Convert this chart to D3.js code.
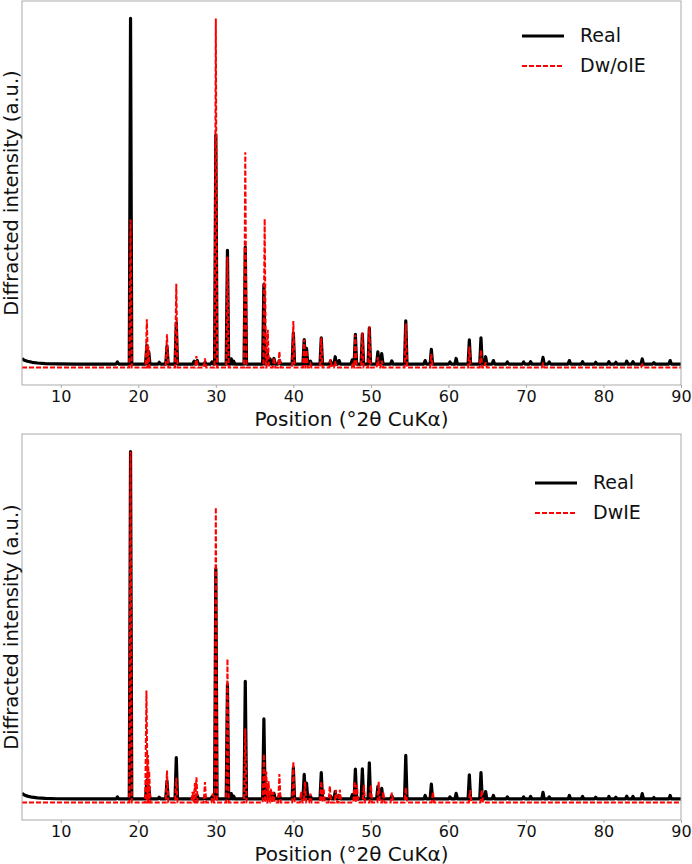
<!DOCTYPE html>
<html><head><meta charset="utf-8">
<script src="https://cdn.jsdelivr.net/npm/d3@7/dist/d3.min.js"></script>
<style>
body{margin:0;background:#fff;}
svg{display:block;font-family:"DejaVu Sans",sans-serif;}
</style></head><body>
<script>
// ---- data ----
const xTicks = [10,20,30,40,50,60,70,80,90];
const xLabel = "Position (°2θ CuKα)";
const yLabel = "Diffracted intensity (a.u.)";
const legendLabels1 = ["Real", "Dw/oIE"];
const legendLabels2 = ["Real", "DwIE"];

// Real pattern: low-angle background then peaks (apex intensities)
const realBgX = [5, 5.3, 5.7, 6.3, 7, 8, 9.5, 12];
const realBgY = [2.6, 2.1, 1.8, 1.5, 1.3, 1.15, 1.05, 1.0];
const realBase = 1.0;
const realPos = [17.3, 19.0, 21.1, 21.35, 22.7, 23.7, 24.9, 27.2, 27.6, 28.6, 29.5, 30.0, 31.5, 32.0, 32.3, 33.8, 36.2, 36.6, 37.0, 37.5, 38.2, 40.0, 41.4, 41.7, 42.2, 43.6, 44.8, 45.4, 45.9, 47.6, 48.0, 48.9, 49.8, 50.9, 51.4, 52.7, 54.5, 57.0, 57.8, 60.2, 61.0, 62.7, 64.2, 64.8, 65.8, 67.6, 69.7, 70.6, 72.2, 73.0, 75.6, 77.3, 79.0, 80.7, 81.6, 83.0, 83.8, 85.0, 86.5, 88.6];
const realInt = [1.6, 100, 6.4, 4.5, 1.5, 6.1, 12.8, 1.8, 2.0, 1.5, 1.6, 66.6, 33.6, 2.5, 1.8, 34.5, 23.8, 5.0, 2.5, 2.6, 2.0, 9.9, 8.0, 5.5, 1.8, 8.5, 1.8, 3.1, 2.0, 2.2, 9.5, 9.6, 11.3, 4.5, 4.0, 1.9, 13.4, 2.0, 5.2, 1.6, 2.6, 7.9, 8.5, 3.1, 2.0, 1.6, 1.6, 1.7, 2.9, 1.6, 2.0, 1.7, 1.5, 1.7, 1.5, 1.8, 1.7, 2.5, 1.4, 2.0];

// Dw/oIE prediction (top panel)
const dwoBase = 0;
const dwoPos = [19.0, 21.1, 21.3, 23.7, 24.9, 27.5, 28.6, 30.0, 31.5, 33.8, 36.3, 36.7, 37.5, 38.2, 40.0, 41.4, 41.7, 42.2, 43.6, 44.8, 45.4, 47.7, 48.0, 48.9, 49.8, 50.9, 51.4, 54.5, 57.8, 62.7, 64.2, 64.8, 72.2, 85.0];
const dwoInt = [42.4, 13.8, 6.0, 9.5, 24.0, 3.3, 2.6, 100, 31.7, 61.7, 42.6, 10.8, 2.8, 4.6, 13.3, 8.0, 5.0, 1.0, 8.6, 2.4, 1.8, 1.5, 9.4, 10.0, 11.8, 3.0, 2.0, 12.6, 3.9, 6.0, 5.0, 1.5, 1.0, 0.8];

// DwIE prediction (bottom panel)
const dwBase = 0;
const dwPos = [19.0, 21.05, 21.25, 21.4, 23.7, 24.9, 27.0, 27.3, 27.5, 28.6, 29.6, 30.0, 31.5, 33.8, 36.2, 36.5, 36.8, 37.1, 37.4, 38.2, 40.0, 41.0, 41.5, 42.2, 43.6, 43.9, 44.7, 45.5, 46.0, 47.9, 48.2, 49.1, 50.0, 51.0, 51.6, 52.7, 54.5, 58.0, 62.8, 64.3];
const dwInt = [100, 31.9, 13.5, 9.0, 9.1, 7.0, 3.0, 5.5, 7.2, 5.8, 2.5, 84.1, 40.9, 21.1, 13.8, 8.8, 6.0, 4.0, 3.0, 8.1, 11.6, 3.0, 5.9, 2.5, 6.0, 4.0, 4.7, 3.6, 3.6, 6.0, 5.0, 5.0, 5.0, 5.9, 3.0, 2.8, 4.2, 3.0, 3.5, 3.5];

// ---- drawing ----
const W = 692, H = 864;
const svg = d3.select("body").append("svg").attr("width", W).attr("height", H);

const HW = 0.16; // peak half-width (deg)
function buildPattern(bgX, bgY, base, pos, inten, xmin, xmax) {
  const pts = [];
  if (bgX) { bgX.forEach((x, i) => pts.push([x, bgY[i]])); }
  else pts.push([xmin, base]);
  pos.forEach((p, i) => {
    pts.push([p - HW, base]);
    pts.push([p, inten[i]]);
    pts.push([p + HW, base]);
  });
  pts.push([xmax, base]);
  return pts;
}

function panel(top, bottom, labels, predBase, predPos, predInt, legendX, legendY) {
  const left = 22, right = 681;
  const x = d3.scaleLinear().domain([5, 90]).range([left, right]);
  const y = d3.scaleLinear().domain([-5, 105]).range([bottom, top]);
  const g = svg.append("g");
  const clipId = "c" + top;
  svg.append("clipPath").attr("id", clipId).append("rect")
    .attr("x", left).attr("y", top).attr("width", right - left).attr("height", bottom - top);

  const line = d3.line().x(d => x(d[0])).y(d => y(d[1]));
  const real = buildPattern(realBgX, realBgY, realBase, realPos, realInt, 5, 90);
  const pred = buildPattern(null, null, predBase, predPos, predInt, 5, 90);

  const lg = g.append("g").attr("clip-path", `url(#${clipId})`);
  lg.append("path").attr("d", line(real)).attr("fill", "none")
    .attr("stroke", "#000").attr("stroke-width", 3.2).attr("stroke-linejoin", "round");
  lg.append("path").attr("d", line(pred)).attr("fill", "none")
    .attr("stroke", "#ff0000").attr("stroke-width", 2).attr("stroke-dasharray", "5,2");

  // frame
  g.append("rect").attr("x", left).attr("y", top).attr("width", right - left).attr("height", bottom - top)
    .attr("fill", "none").attr("stroke", "#aaa").attr("stroke-width", 1);

  const ax = g.append("g").attr("transform", `translate(0,${bottom})`)
    .call(d3.axisBottom(x).tickValues(xTicks).tickSize(3).tickPadding(3).tickFormat(d3.format("d")));
  ax.select(".domain").remove();
  ax.selectAll(".tick line").attr("stroke", "#aaa");
  ax.selectAll(".tick text").attr("font-size", 16).attr("fill", "#111").attr("font-family", "DejaVu Sans");

  g.append("text").attr("x", (left + right) / 2).attr("y", bottom + 35)
    .attr("text-anchor", "middle").attr("dominant-baseline", "middle")
    .attr("font-size", 20).attr("fill", "#111").text(xLabel);
  g.append("text").attr("transform", `translate(12,${(top + bottom) / 2}) rotate(-90)`)
    .attr("text-anchor", "middle").attr("dominant-baseline", "middle")
    .attr("font-size", 19.5).attr("fill", "#111").text(yLabel);

  // legend
  const leg = g.append("g");
  leg.append("line").attr("x1", legendX).attr("x2", legendX + 42).attr("y1", legendY).attr("y2", legendY)
    .attr("stroke", "#000").attr("stroke-width", 3);
  leg.append("text").attr("x", legendX + 58).attr("y", legendY).attr("dominant-baseline", "middle")
    .attr("font-size", 19).attr("fill", "#111").text(labels[0]);
  leg.append("line").attr("x1", legendX).attr("x2", legendX + 42).attr("y1", legendY + 30).attr("y2", legendY + 30)
    .attr("stroke", "#ff0000").attr("stroke-width", 1.8).attr("stroke-dasharray", "5,2");
  leg.append("text").attr("x", legendX + 58).attr("y", legendY + 30).attr("dominant-baseline", "middle")
    .attr("font-size", 19).attr("fill", "#111").text(labels[1]);
}

panel(1, 385, legendLabels1, dwoBase, dwoPos, dwoInt, 522, 36);
panel(434, 820, legendLabels2, dwBase, dwPos, dwInt, 535, 483);
</script>
</body></html>
